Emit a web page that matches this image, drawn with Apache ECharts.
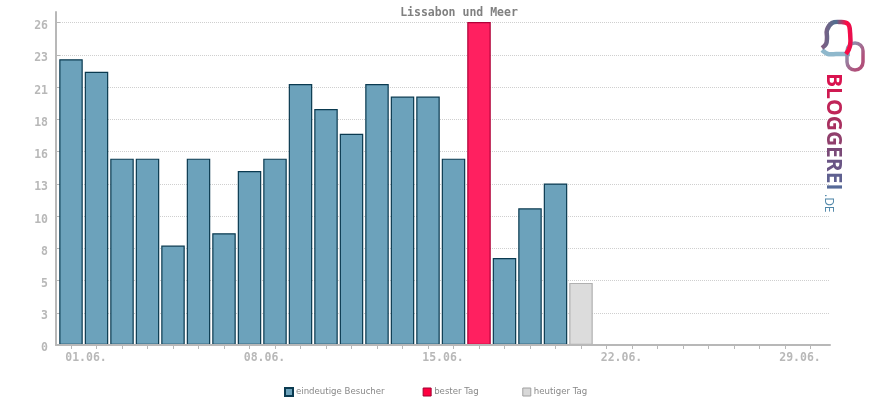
<!DOCTYPE html>
<html>
<head>
<meta charset="utf-8">
<title>Lissabon und Meer</title>
<style>
html, body { margin: 0; padding: 0; background: #fff; }
#chart { width: 870px; height: 400px; }
</style>
<script src="https://cdn.jsdelivr.net/npm/echarts@6/dist/echarts.min.js"></script>
</head>
<body>
<div id="chart"></div>
<script>
var categories = ['01.06.', '02.06.', '03.06.', '04.06.', '05.06.', '06.06.', '07.06.', '08.06.', '09.06.', '10.06.',
    '11.06.', '12.06.', '13.06.', '14.06.', '15.06.', '16.06.', '17.06.', '18.06.', '19.06.', '20.06.',
    '21.06.', '22.06.', '23.06.', '24.06.', '25.06.', '26.06.', '27.06.', '28.06.', '29.06.', '30.06.'];
var visitors = [23, 22, 15, 15, 8, 15, 9, 14, 15, 21, 19, 17, 21, 20, 20, 15, null, 7, 11, 13, null,
    null, null, null, null, null, null, null, null, null];
var bestDay = [null, null, null, null, null, null, null, null, null, null, null, null, null, null, null, null, 26,
    null, null, null, null, null, null, null, null, null, null, null, null, null];
var today = [null, null, null, null, null, null, null, null, null, null, null, null, null, null, null, null, null,
    null, null, null, 5, null, null, null, null, null, null, null, null, null];
var yTicks = [0, 2.6, 5.2, 7.8, 10.4, 13, 15.6, 18.2, 20.8, 23.4, 26];
var yTickLabels = ['0', '3', '5', '8', '10', '13', '16', '18', '21', '23', '26'];

var axisGrey = '#b8b8b8';
var labelFont = '"DejaVu Sans Mono", monospace';
var legendFont = '"DejaVu Sans", sans-serif';
var logoLetters = 'BLOGGEREI'.split('');
var logoColors = ['#d9134f', '#cf1a52', '#c02458', '#a8305f', '#903f6c', '#7a4a78', '#6a5585', '#5f6090', '#566a98'];

function barSeries(name, data, fill, border) {
    return {
        name: name,
        type: 'bar',
        xAxisIndex: 0,
        yAxisIndex: 0,
        stack: 'day',
        barWidth: 23.5,
        data: data,
        z: 3,
        itemStyle: {color: fill, borderColor: border, borderWidth: 1.2}
    };
}

// one rich text style per logo letter, the wordmark runs from red to blue
var logoRich = {};
var logoText = '';
logoLetters.forEach(function (letter, i) {
    logoRich['l' + i] = {font: 'bold 21px "Open Sans", sans-serif', fill: logoColors[i]};
    logoText += '{l' + i + '|' + letter + '}';
});

var chart = echarts.init(document.getElementById('chart'));
var option = {
    animation: false,
    backgroundColor: '#fff',
    title: {
        text: 'Lissabon und Meer',
        left: 454,
        top: 2,
        textAlign: 'center',
        textStyle: {fontFamily: labelFont, fontSize: 11.5, fontWeight: 'bold', color: '#808080'}
    },
    legend: {
        left: 279,
        top: 382,
        itemWidth: 8,
        itemHeight: 8,
        itemGap: 38,
        textStyle: {fontFamily: legendFont, fontSize: 8.6, color: '#888', padding: [0, 0, 0, -2]},
        // the gaps are uneven in the original, two spaces widen the middle item
        formatter: function (name) {
            return name == 'bester Tag' ? name + '\u00a0\u00a0' : name;
        },
        data: [
            {name: 'eindeutige Besucher', icon: 'rect'},
            {name: 'bester Tag', icon: 'rect', itemStyle: {color: '#ff0040', borderColor: '#a00030', borderWidth: 1}},
            {name: 'heutiger Tag', icon: 'rect', itemStyle: {color: '#d8d8d8', borderColor: '#a0a0a0', borderWidth: 1}}
        ]
    },
    grid: [
        {left: 58.25, width: 765, top: 22, height: 323},
        {left: 56, width: 774, top: 12, height: 333}
    ],
    xAxis: [
        {
            gridIndex: 0,
            type: 'category',
            data: categories,
            axisLine: {show: false},
            axisTick: {show: true, interval: 0, alignWithLabel: true, length: 4, lineStyle: {color: axisGrey}},
            axisLabel: {
                interval: 6,
                margin: 7,
                fontFamily: labelFont,
                fontSize: 11.5,
                fontWeight: 'bold',
                color: axisGrey,
                padding: [0, 0, 0, 30]
            },
            splitLine: {show: false}
        },
        {
            gridIndex: 1,
            type: 'value',
            z: 5,
            min: 0,
            max: 1,
            axisLine: {show: true, onZero: false, lineStyle: {color: axisGrey, width: 2}},
            axisTick: {show: false},
            axisLabel: {show: false},
            splitLine: {show: false}
        }
    ],
    yAxis: [
        {
            gridIndex: 0,
            type: 'value',
            min: 0,
            max: 26,
            show: false
        },
        {
            gridIndex: 1,
            type: 'value',
            z: 1,
            min: 0,
            max: 26.85,
            axisLine: {show: true, lineStyle: {color: axisGrey, width: 2}},
            axisTick: {show: true, inside: true, length: 4, customValues: yTicks, lineStyle: {color: axisGrey}},
            axisLabel: {
                customValues: yTicks,
                margin: 8,
                fontFamily: labelFont,
                fontSize: 11.5,
                fontWeight: 'bold',
                color: axisGrey,
                verticalAlign: 'top',
                lineHeight: 7,
                formatter: function (value) {
                    return yTickLabels[yTicks.indexOf(value)];
                }
            },
            splitLine: {show: true, lineStyle: {color: '#cfcfcf', type: 'dotted', width: 1}}
        }
    ],
    series: [
        barSeries('eindeutige Besucher', visitors, '#6ca2bb', '#0a3a50'),
        barSeries('bester Tag', bestDay, '#ff2060', '#b00038'),
        barSeries('heutiger Tag', today, '#dcdcdc', '#b0b0b0')
    ],
    graphic: [
        // logo top right
        {
            type: 'polyline',
            z: 10,
            shape: {
                points: [[822, 48], [826, 44], [827, 38], [827, 30], [832, 23], [840, 22], [848, 24], [850, 32], [850, 46], [846, 54]],
                smooth: 0.4
            },
            style: {
                fill: 'none',
                lineWidth: 4.5,
                stroke: new echarts.graphic.LinearGradient(0, 0, 1, 0, [
                    {offset: 0, color: '#8a5a80'},
                    {offset: 0.5, color: '#4f6f90'},
                    {offset: 0.8, color: '#ff0a45'},
                    {offset: 1, color: '#e01050'}
                ])
            }
        },
        {
            type: 'polyline',
            z: 9,
            shape: {points: [[822, 50], [828, 54], [836, 54], [850, 54]], smooth: 0.3},
            style: {fill: 'none', lineWidth: 4.5, stroke: '#8fb8cc'}
        },
        {
            type: 'rect',
            z: 9,
            shape: {x: 847, y: 43, width: 16, height: 27, r: 8},
            style: {
                fill: 'none',
                lineWidth: 3.5,
                stroke: new echarts.graphic.LinearGradient(0, 0, 1, 0.4, [
                    {offset: 0, color: '#7fb0c8'},
                    {offset: 1, color: '#b0507a'}
                ])
            }
        },
        {
            type: 'text',
            z: 10,
            x: 822,
            y: 73,
            rotation: -Math.PI / 2,
            style: {
                text: logoText,
                rich: logoRich,
                textAlign: 'left',
                textVerticalAlign: 'bottom'
            }
        },
        {
            type: 'text',
            z: 10,
            x: 822,
            y: 194,
            rotation: -Math.PI / 2,
            style: {
                text: '.DE',
                font: '12px "Open Sans", sans-serif',
                textAlign: 'left',
                textVerticalAlign: 'bottom',
                fill: '#4f86a8'
            }
        }
    ]
};
chart.setOption(option);
</script>
</body>
</html>
